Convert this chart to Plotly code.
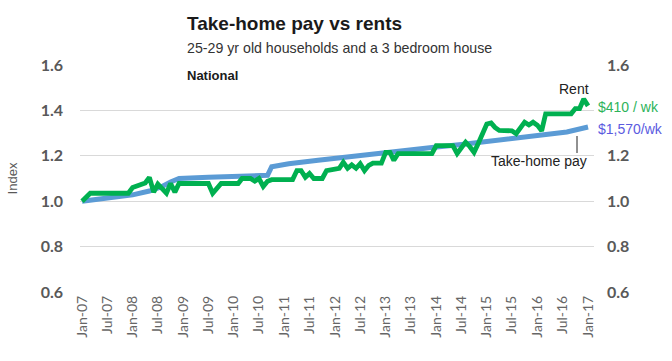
import pandas as pd
import plotly.graph_objects as go

# ---------------- data ----------------
month_start = "2007-01-01"
n_months = 121
rent_index = [
    1.000, 1.020, 1.035, 1.035, 1.035, 1.035, 1.035, 1.035, 1.035, 1.035,
    1.035, 1.035, 1.060, 1.065, 1.070, 1.080, 1.105, 1.040, 1.075, 1.055,
    1.035, 1.078, 1.040, 1.078, 1.078, 1.078, 1.078, 1.078, 1.078, 1.078,
    1.078, 1.035, 1.060, 1.078, 1.078, 1.078, 1.078, 1.078, 1.100, 1.100,
    1.100, 1.088, 1.100, 1.065, 1.088, 1.095, 1.095, 1.095, 1.095, 1.095,
    1.095, 1.135, 1.135, 1.105, 1.122, 1.100, 1.100, 1.100, 1.135, 1.140,
    1.140, 1.145, 1.172, 1.145, 1.160, 1.145, 1.165, 1.135, 1.158, 1.168,
    1.168, 1.168, 1.215, 1.215, 1.180, 1.210, 1.210, 1.210, 1.210, 1.210,
    1.210, 1.210, 1.210, 1.210, 1.245, 1.245, 1.245, 1.245, 1.245, 1.210,
    1.235, 1.260, 1.240, 1.215, 1.255, 1.300, 1.340, 1.345, 1.325, 1.312,
    1.312, 1.312, 1.310, 1.297, 1.325, 1.348, 1.336, 1.348, 1.335, 1.310,
    1.385, 1.385, 1.385, 1.385, 1.385, 1.385, 1.385, 1.408, 1.408, 1.450,
    1.420,
]
pay_dates = ["2007-01-01", "2007-07-01", "2008-01-01", "2008-05-01", "2008-08-01",
             "2008-10-01", "2008-12-01", "2009-07-01", "2010-01-01", "2010-09-01",
             "2010-10-01", "2011-02-01", "2011-09-01", "2012-05-01", "2013-01-01",
             "2013-12-01", "2014-07-01", "2015-01-01", "2015-09-01", "2016-03-01",
             "2016-08-01", "2017-01-01"]
pay_index = [1.000, 1.012, 1.028, 1.045, 1.065, 1.085, 1.100, 1.105, 1.107, 1.114,
             1.152, 1.165, 1.180, 1.198, 1.213, 1.237, 1.250, 1.262, 1.278, 1.292,
             1.305, 1.327]
tick_dates = ["2007-01-01", "2007-07-01", "2008-01-01", "2008-07-01", "2009-01-01",
              "2009-07-01", "2010-01-01", "2010-07-01", "2011-01-01", "2011-07-01",
              "2012-01-01", "2012-07-01", "2013-01-01", "2013-07-01", "2014-01-01",
              "2014-07-01", "2015-01-01", "2015-07-01", "2016-01-01", "2016-07-01",
              "2017-01-01"]
tick_labels = ["Jan-07", "Jul-07", "Jan-08", "Jul-08", "Jan-09", "Jul-09", "Jan-10",
               "Jul-10", "Jan-11", "Jul-11", "Jan-12", "Jul-12", "Jan-13", "Jul-13",
               "Jan-14", "Jul-14", "Jan-15", "Jul-15", "Jan-16", "Jul-16", "Jan-17"]
y_ticks = [0.6, 0.8, 1.0, 1.2, 1.4, 1.6]
y_ticks_right = [0.6, 0.8, 1.0, 1.2, 1.6]

months = pd.date_range(month_start, periods=n_months, freq="MS")

# ---------------- figure ----------------
GREEN = "#00B050"
BLUE = "#5B9BD5"
GREY = "#595959"

fig = go.Figure()
fig.add_trace(go.Scatter(x=pay_dates, y=pay_index, mode="lines",
                         line=dict(color=BLUE, width=5), name="Take-home pay",
                         showlegend=False))
fig.add_trace(go.Scatter(x=months, y=rent_index, mode="lines",
                         line=dict(color=GREEN, width=4.8), name="Rent",
                         showlegend=False))
# carrier for the right-hand axis (draws nothing visible)
fig.add_trace(go.Scatter(x=months, y=rent_index, mode="lines", yaxis="y2",
                         line=dict(color="rgba(0,0,0,0)", width=0),
                         hoverinfo="skip", showlegend=False))

L, R, T, B = 80, 78, 65, 69
W, H = 672, 361
plot_h = H - T - B


def py(ypix):
    return (H - B - ypix) / plot_h


def px(xpix):
    return (xpix - L) / (W - L - R)


tickfont_y = dict(family="Lato", size=16, color=GREY, weight="bold")

fig.update_layout(
    width=W, height=H,
    margin=dict(l=L, r=R, t=T, b=B, autoexpand=False),
    paper_bgcolor="white", plot_bgcolor="white",
    showlegend=False,
    xaxis=dict(
        type="date", automargin=False,
        range=["2006-12-17", "2017-02-13"],
        tickmode="array", tickvals=tick_dates, ticktext=tick_labels,
        tickangle=-90, tickfont=dict(family="Lato", size=14, color="#666666"),
        showgrid=False, zeroline=False, showline=False, ticks="",
    ),
    yaxis=dict(
        automargin=False,
        range=[0.6, 1.6], tickmode="array", tickvals=y_ticks,
        tickformat=".1f", tickfont=tickfont_y,
        gridcolor="#d9d9d9", gridwidth=1, zeroline=False, showline=False,
        ticks="", ticklabelstandoff=16,
        title=dict(text="Index", font=dict(family="Liberation Sans", size=13, color=GREY),
                   standoff=20),
    ),
    yaxis2=dict(
        automargin=False,
        overlaying="y", side="right", range=[0.6, 1.6], tickmode="array",
        tickvals=y_ticks_right, tickformat=".1f", tickfont=tickfont_y,
        showgrid=False, zeroline=False, showline=False, ticks="",
        ticklabelstandoff=12,
    ),
)

annos = [
    dict(text="<b>Take-home pay vs rents</b>", x=px(185), y=py(24), size=19, color="#1a1a1a"),
    dict(text="25-29 yr old households and a 3 bedroom house", x=px(185), y=py(48), size=14.2, color="#333333"),
    dict(text="<b>National</b>", x=px(185), y=py(75), size=13, color="#1a1a1a"),
    dict(text="Rent", x=px(557), y=py(89), size=14, color="#222222"),
    dict(text="$410 / wk", x=px(596), y=py(107), size=14, color="#2DB35A"),
    dict(text="$1,570/wk", x=px(596), y=py(129), size=14, color="#5B5BDF"),
    dict(text="Take-home pay", x=px(489), y=py(161), size=14, color="#222222"),
]
for a in annos:
    fig.add_annotation(text=a["text"], xref="paper", yref="paper", x=a["x"], y=a["y"],
                       xanchor="left", yanchor="middle", showarrow=False,
                       font=dict(family="Liberation Sans", size=a["size"], color=a["color"]))

fig.add_shape(type="line", xref="paper", yref="paper", x0=px(577), x1=px(577),
              y0=py(136), y1=py(153), line=dict(color="#222222", width=1))

fig.write_html("out.html", config={"displayModeBar": False},
               post_script="document.body.style.margin='0';document.body.style.padding='0';")
